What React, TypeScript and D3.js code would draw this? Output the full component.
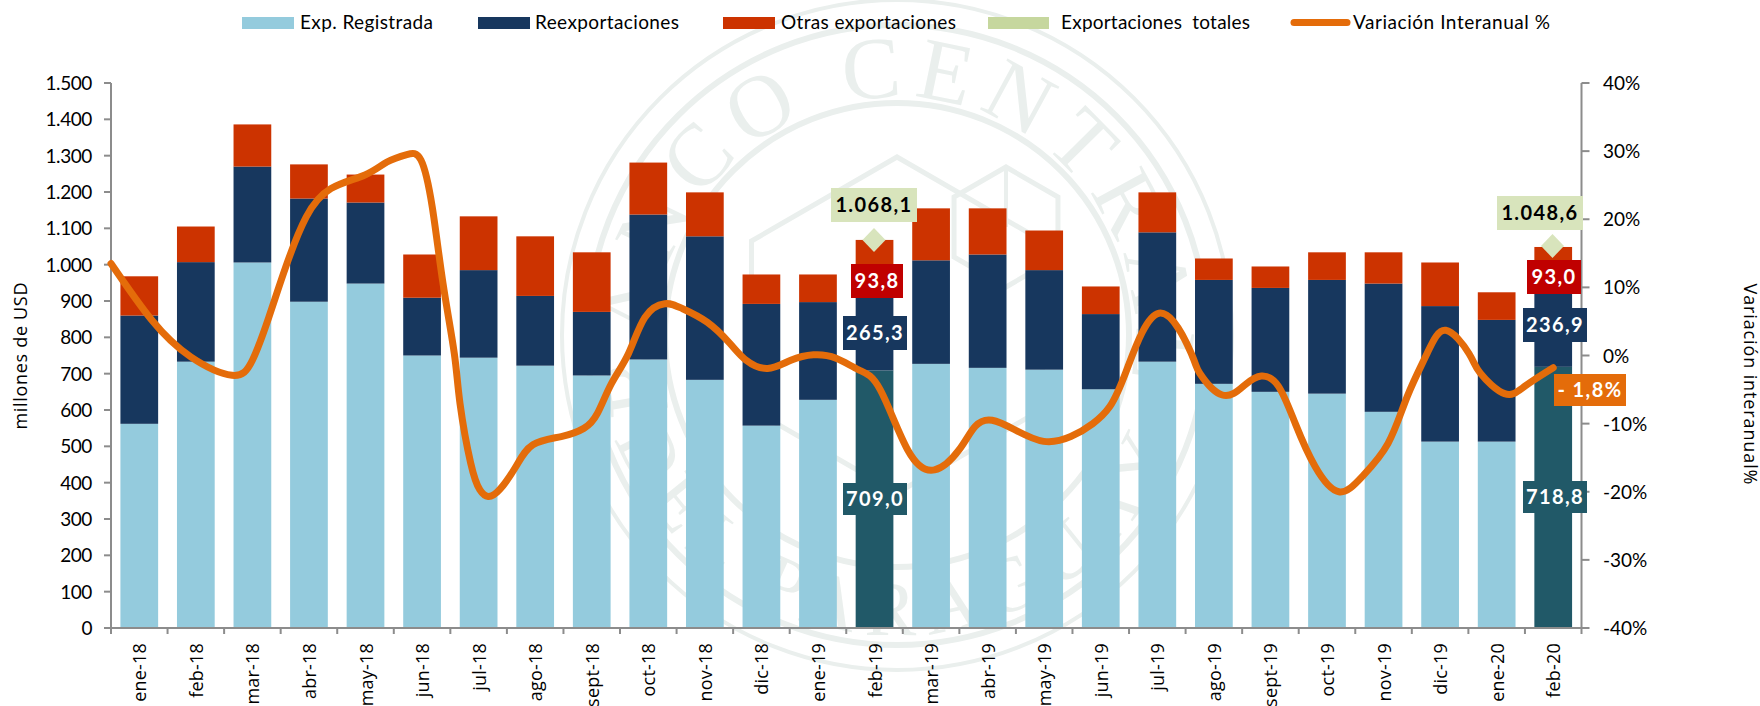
import React from "react";
import * as d3 from "d3";

const months = ["ene-18","feb-18","mar-18","abr-18","may-18","jun-18","jul-18","ago-18","sept-18","oct-18","nov-18","dic-18","ene-19","feb-19","mar-19","abr-19","may-19","jun-19","jul-19","ago-19","sept-19","oct-19","nov-19","dic-19","ene-20","feb-20"];
const registrada = [562,733,1006,898,948,750,744,722,695,739,683,557,628,709,727,716,711,657,733,672,650,645,595,513,513,718.8];
const reexportaciones = [298,274,264,284,223,159,241,192,175,399,395,335,269,265.3,285,312,274,207,356,286,286,313,353,373,335,236.9];
const otras = [108,98,116,94,77,119,148,164,164,143,121,81,76,93.8,143,127,109,76,110,59,59,76,86,120,76,93];
const totalFeb19 = 1068.1;
const totalFeb20 = 1048.6;
const lineBand = [0,.72,1.41,2.14,2.5,2.79,3.09,3.45,3.89,4.49,4.88,5.23,5.48,5.68,5.87,6.07,6.17,6.36,6.52,6.67,6.87,7.16,7.46,7.96,8.36,8.6,8.85,9.15,9.44,9.79,10.1,10.54,10.94,11.23,11.61,12.02,12.42,12.82,13.22,13.6,14.09,14.56,14.99,15.28,15.58,15.98,16.49,16.97,17.36,17.66,17.96,18.53,19.1,19.25,19.65,20.05,20.34,20.64,20.94,21.29,21.71,22.13,22.58,22.92,23.27,23.6,24.01,24.21,24.64,25,25.5];
const lineValues = [13.5,5.2,-.2,-2.9,-.7,5.6,13,20.3,24.5,26.5,28.4,29.5,28.7,21.8,10.6,.3,-7,-15.8,-19.7,-20.7,-19.7,-16.3,-13.1,-11.9,-10.7,-8.5,-4.1,.3,5.6,7.6,6.9,4.9,1.8,-.7,-1.9,-.7,.1,-.4,-2.1,-5,-13.9,-16.8,-13.9,-10.4,-9.5,-10.9,-12.6,-11.9,-10,-7.5,-2.1,6.2,.3,-2.6,-5.8,-4.3,-3,-4.5,-10,-16.3,-20,-17.7,-12.9,-6,.3,3.7,.3,-2.6,-5.6,-4.5,-1.8];
const leftTicks = [0,100,200,300,400,500,600,700,800,900,1000,1100,1200,1300,1400,1500];
const rightTicks = [-40,-30,-20,-10,0,10,20,30,40];
const highlighted = [13,25];

const C = { light:"#94CBDD", navy:"#17375E", red:"#CC3300", teal:"#215968", green:"#C6D79E", greenBox:"#D8E4BC", dark:"#C00000", orange:"#E46C0A", axis:"#8C8C8C", wm:"#EAEFED" };
const F = "Lato, 'Open Sans', sans-serif";
const W = "'Open Sans', sans-serif";

const L = 111, R = 1581.5, T = 83, B = 628;
const x = d3.scaleBand<string>().domain(months).range([L, R]).paddingInner(0.333).paddingOuter(0.1665);
const xu = d3.scaleLinear().domain([0, months.length]).range([L, R]);
const y = d3.scaleLinear().domain([0, 1500]).range([B, T]);
const y2 = d3.scaleLinear().domain([-40, 40]).range([B, T]);
const linePath = d3.line<number>().x((u) => xu(u)).y((_, i) => y2(lineValues[i])).curve(d3.curveNatural)(lineBand) || "";
const es = (v: number, d = 1) => d3.format(",." + d + "f")(v).replace(/,/g, "#").replace(".", ",").replace(/#/g, ".").replace("−", "- ");

function Box({ x: bx, y: by, w, h, fill, color = "#fff", children }: any) {
  return <g>
    <rect x={bx} y={by} width={w} height={h} fill={fill} />
    <text x={bx + w / 2} y={by + h / 2 + 7} textAnchor="middle" fill={color} fontFamily={F} fontSize={20} fontWeight={700} letterSpacing={1.4}>{children}</text>
  </g>;
}

function hexPoints(cx: number, cy: number, r: number) {
  return d3.range(6).map((i) => { const a = Math.PI / 3 * i - Math.PI / 2; return [cx + r * Math.cos(a), cy + r * Math.sin(a)].join(","); }).join(" ");
}

function Watermark() {
  const cx = 897, cy = 335;
  const s = Math.sin(Math.PI * 2 / 3), c = Math.cos(Math.PI * 2 / 3);
  const rt = 238, rb = 300;
  return <g fill="none" stroke={C.wm}>
    <circle cx={cx} cy={cy} r={335} strokeWidth={4} />
    <circle cx={cx} cy={cy} r={310} strokeWidth={6} />
    <circle cx={cx} cy={cy} r={232} strokeWidth={6} />
    <polygon points={hexPoints(cx, cy - 10, 168)} strokeWidth={5} />
    <polygon points={hexPoints(1006, 227, 60)} strokeWidth={5} />
    <line x1={1006} x2={1006} y1={167} y2={227} strokeWidth={4} />
    <path id="wmTop" d={`M ${cx - rt * s} ${cy - rt * c} A ${rt} ${rt} 0 1 1 ${cx + rt * s} ${cy - rt * c}`} stroke="none" />
    <path id="wmBot" d={`M ${cx - rb * s} ${cy + rb * c} A ${rb} ${rb} 0 1 0 ${cx + rb * s} ${cy + rb * c}`} stroke="none" />
    <text fill={C.wm} stroke="none" fontFamily="'Liberation Serif', serif" fontSize={88} letterSpacing={11}><textPath href="#wmTop" startOffset="49%" textAnchor="middle">BANCO CENTRAL</textPath></text>
    <text fill={C.wm} stroke="none" fontFamily="'Liberation Serif', serif" fontSize={78} letterSpacing={12}><textPath href="#wmBot" startOffset="50%" textAnchor="middle">DEL PARAGUAY</textPath></text>
  </g>;
}

export default function App() {
  const bw = x.bandwidth();
  return (
    <svg width={1760} height={706} viewBox="0 0 1760 706" style={{ position: "absolute", left: 0, top: 0, display: "block", background: "#fff" }}>
      <Watermark />
      {months.map((m, i) => {
        const hi = highlighted.includes(i);
        const a = registrada[i], b = a + reexportaciones[i], c = b + otras[i];
        return <g key={m}>
          <rect x={x(m)} width={bw} y={y(a)} height={y(0) - y(a)} fill={hi ? C.teal : C.light} />
          <rect x={x(m)} width={bw} y={y(b)} height={y(a) - y(b)} fill={C.navy} />
          <rect x={x(m)} width={bw} y={y(c)} height={y(b) - y(c)} fill={C.red} />
        </g>;
      })}
      <g stroke={C.axis} strokeWidth={2} fill="none">
        <line x1={L} x2={L} y1={T} y2={B} />
        <line x1={R} x2={R} y1={T} y2={B} />
        <line x1={L} x2={R} y1={B} y2={B} />
        {leftTicks.map((t) => <line key={t} x1={L - 7} x2={L} y1={y(t)} y2={y(t)} />)}
        {rightTicks.map((t) => <line key={t} x1={R} x2={R + 8} y1={y2(t)} y2={y2(t)} />)}
        {d3.range(months.length + 1).map((i) => <line key={i} x1={xu(i)} x2={xu(i)} y1={B} y2={B + 6} />)}
      </g>
      <g fontFamily={F} fontSize={19} fill="#000">
        {leftTicks.map((t) => <text key={t} x={92} y={y(t) + 7} textAnchor="end" letterSpacing={-0.4}>{t === 0 ? "0" : es(t, 0)}</text>)}
        {rightTicks.map((t) => <text key={t} x={1603} y={y2(t) + 7}>{t}%</text>)}
      </g>
      <g fontFamily={W} fontSize={18} fill="#000">
        {months.map((m) => <text key={m} transform={`translate(${(x(m) as number) + bw / 2 + 7} 643) rotate(-90)`} textAnchor="end" letterSpacing={0.2}>{m}</text>)}
        <text transform="translate(27 356) rotate(-90)" textAnchor="middle" fontSize={18} textLength={147}>millones de USD</text>
        <text transform="translate(1744 384) rotate(90)" textAnchor="middle" fontSize={18} textLength={201}>Variación interanual%</text>
      </g>
      <path d={linePath} fill="none" stroke={C.orange} strokeWidth={7} strokeLinecap="round" strokeLinejoin="round" />
      <g fill={C.greenBox}>
        {[[874, 240], [1552.5, 246]].map(([dx, dy]) => <path key={dx} d={d3.line()([[dx - 11.5, dy], [dx, dy - 12], [dx + 11.5, dy], [dx, dy + 12]]) + "Z"} />)}
      </g>
      <Box x={831} y={188} w={86} h={34} fill={C.greenBox} color="#000">{es(totalFeb19)}</Box>
      <Box x={851} y={264} w={52} h={34} fill={C.dark}>{es(otras[13])}</Box>
      <Box x={843} y={316} w={64} h={34} fill={C.navy}>{es(reexportaciones[13])}</Box>
      <Box x={843} y={483} w={64} h={32} fill={C.teal}>{es(registrada[13])}</Box>
      <Box x={1497} y={196} w={86} h={34} fill={C.greenBox} color="#000">{es(totalFeb20)}</Box>
      <Box x={1527} y={260} w={54} h={34} fill={C.dark}>{es(otras[25])}</Box>
      <Box x={1523} y={308} w={64} h={34} fill={C.navy}>{es(reexportaciones[25])}</Box>
      <Box x={1523} y={481} w={64} h={32} fill={C.teal}>{es(registrada[25])}</Box>
      <Box x={1554} y={374} w={72} h={32} fill={C.orange}>{es(lineValues[lineValues.length - 1])}%</Box>
      <g fontFamily={F} fontSize={19} fill="#000">
        <rect x={242} y={17} width={52} height={12} fill={C.light} />
        <text x={300} y={29} textLength={133}>Exp. Registrada</text>
        <rect x={478} y={17} width={52} height={12} fill={C.navy} />
        <text x={535} y={29} textLength={144}>Reexportaciones</text>
        <rect x={723} y={17} width={52} height={12} fill={C.red} />
        <text x={781} y={29} textLength={175}>Otras exportaciones</text>
        <rect x={988} y={17} width={61} height={12} fill={C.green} />
        <text x={1061} y={29} textLength={189} xmlSpace="preserve">Exportaciones  totales</text>
        <line x1={1294} x2={1347} y1={22.5} y2={22.5} stroke={C.orange} strokeWidth={7} strokeLinecap="round" />
        <text x={1353} y={29} textLength={197}>Variación Interanual %</text>
      </g>
    </svg>
  );
}
